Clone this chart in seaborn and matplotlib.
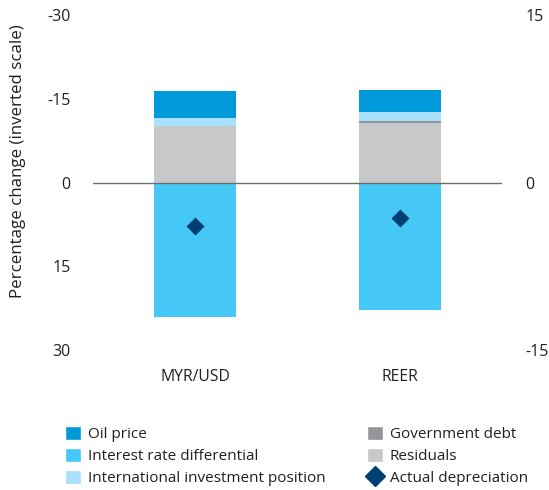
import matplotlib
matplotlib.use("Agg")
import matplotlib.pyplot as plt
from matplotlib.patches import Patch
from matplotlib.lines import Line2D
import numpy as np
import seaborn as sns

# Decomposition of depreciation (percentage change; negative = appreciation contribution)
categories = ["MYR/USD", "REER"]
interest_rate_diff = [24.0, 22.8]
residuals = [-10.2, -10.6]
government_debt = [0.0, -0.5]
intl_investment_position = [-1.3, -1.45]
oil_price = [-4.8, -3.95]
actual_depreciation = [7.8, 6.3]

left_ticks = [-30, -15, 0, 15, 30]
right_ticks = [15, 0, -15]

colors = {
    "Oil price": "#009ADA",
    "Interest rate differential": "#45C8F5",
    "International investment position": "#A9E0FB",
    "Government debt": "#939598",
    "Residuals": "#C7C8CA",
    "Actual depreciation": "#003F72",
}

sns.set_theme(style="white")
plt.rcParams["font.family"] = ["Open Sans", "DejaVu Sans"]
text_color = "#231F20"

fig = plt.figure(figsize=(5.49, 4.9), dpi=100)
ax = fig.add_axes([0.1694, 0.2857, 0.745, 0.6837])

# Negative stack (drawn from the outermost cumulative total inward so each layer overlays)
neg_layers = [
    ("Residuals", residuals),
    ("Government debt", government_debt),
    ("International investment position", intl_investment_position),
    ("Oil price", oil_price),
]
cum = np.cumsum([np.array(v) for _, v in neg_layers], axis=0)
for (name, _), totals in reversed(list(zip(neg_layers, cum))):
    sns.barplot(x=categories, y=totals, color=colors[name], width=0.4,
                saturation=1, linewidth=0, ax=ax)

sns.barplot(x=categories, y=interest_rate_diff, color=colors["Interest rate differential"],
            width=0.4, saturation=1, linewidth=0, ax=ax)

sns.pointplot(x=categories, y=actual_depreciation, color=colors["Actual depreciation"],
              markers="D", linestyles="none", markersize=7.2, ax=ax, zorder=5)

ax.axhline(0, color="#6D6E71", linewidth=1.0, zorder=3)

ax.set_xlim(-0.5, 1.5)
ax.set_ylim(30, -30)
ax.set_yticks(left_ticks)
ax.set_yticklabels([str(t) for t in left_ticks])
ax.tick_params(axis="both", length=0, colors=text_color)
ax.tick_params(axis="y", pad=16, labelsize=11.5)
ax.tick_params(axis="x", pad=14, labelsize=11.3)
ax.set_ylabel("Percentage change (inverted scale)", fontsize=12.2, color=text_color)
ax.yaxis.set_label_coords(-0.163, 0.564)
for s in ax.spines.values():
    s.set_visible(False)

ax2 = ax.twinx()
ax2.set_ylim(-15, 15)
ax2.set_yticks(right_ticks)
ax2.set_yticklabels([str(t) for t in right_ticks])
ax2.tick_params(axis="y", length=0, labelsize=11.5, colors=text_color, pad=17)
for s in ax2.spines.values():
    s.set_visible(False)
ax2.grid(False)
ax.grid(False)

left_handles = [
    Patch(facecolor=colors["Oil price"], label="Oil price"),
    Patch(facecolor=colors["Interest rate differential"], label="Interest rate differential"),
    Patch(facecolor=colors["International investment position"], label="International investment position"),
]
right_handles = [
    Patch(facecolor=colors["Government debt"], label="Government debt"),
    Patch(facecolor=colors["Residuals"], label="Residuals"),
    Line2D([0], [0], marker="D", color="none", markerfacecolor=colors["Actual depreciation"],
           markeredgecolor=colors["Actual depreciation"], markersize=10, label="Actual depreciation"),
]
legend_kw = dict(loc="upper left", frameon=False, fontsize=11, handlelength=1.05,
                 handleheight=1.05, handletextpad=0.45, labelspacing=0.38,
                 borderaxespad=0, borderpad=0)
for hs, x0 in ((left_handles, 65 / 549), (right_handles, 367 / 549)):
    leg = fig.legend(handles=hs, bbox_to_anchor=(x0, 0.131), **legend_kw)
    for t in leg.get_texts():
        t.set_color(text_color)

fig.savefig("out.png", dpi=100)
